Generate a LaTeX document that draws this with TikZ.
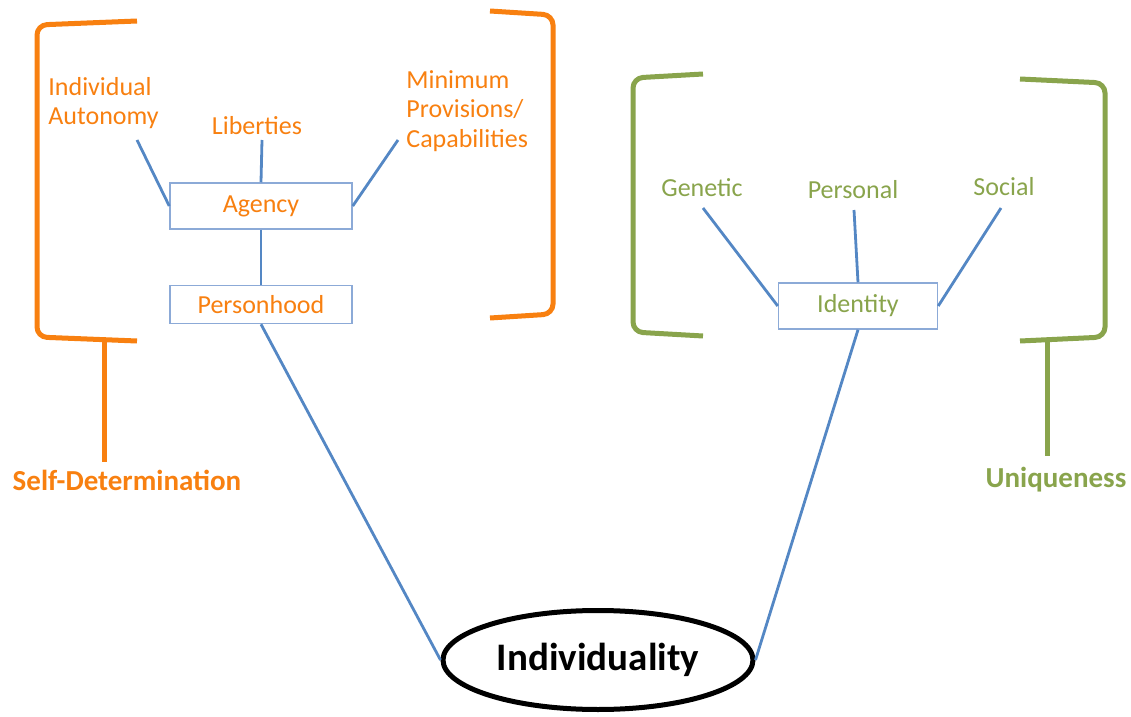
\documentclass[tikz,border=0pt]{standalone}
\usepackage{fontspec}
\setmainfont{Carlito}
\usetikzlibrary{positioning}
\usetikzlibrary{shapes.geometric}
\definecolor{sdorange}{RGB}{248,128,16}
\definecolor{unigreen}{RGB}{137,164,76}
\definecolor{linkblue}{RGB}{84,135,196}
\definecolor{boxblue}{RGB}{140,170,215}

\begin{document}
\begin{tikzpicture}[x=0.5pt,y=-0.5pt,
		box/.style={draw=boxblue, line width=0.75pt, minimum width=91pt, minimum height=23pt, inner sep=0pt, fill=white, font=\fontsize{13}{15}\selectfont},
		lab/.style={inner sep=0pt, font=\fontsize{13}{14.8}\selectfont},
		head/.style={inner sep=0pt, font=\fontsize{14.5}{17}\selectfont\bfseries},
		link/.style={draw=linkblue, line width=1.4pt},
		brack/.style={line width=2.5pt, rounded corners=5pt}]
		\useasboundingbox (0,0) rectangle (1131,717);
		% self-determination side
		\node (agency) [box, text=sdorange] at (261,206) {Agency};
		\node (person) [box, text=sdorange, minimum height=19pt, below=27.5pt of agency] {Personhood};
		\node (auton) [lab, text=sdorange, anchor=west, align=left] at (48,103) {Individual\\Autonomy};
		\node (liber) [lab, text=sdorange] at (257,126) {Liberties};
		\node (minim) [lab, text=sdorange, anchor=west, align=left] at (406,111) {Minimum\\Provisions/\\Capabilities};
		\node (selfdet) [head, text=sdorange] at (127,480) {Self-Determination};
		% uniqueness side
		\node (ident) [box, text=unigreen, minimum width=79.5pt] at (858,306) {Identity};
		\node (genet) [lab, text=unigreen] at (702,188) {Genetic};
		\node (perso) [lab, text=unigreen] at (853,190) {Personal};
		\node (socia) [lab, text=unigreen] at (1004,187) {Social};
		\node (uniq) [head, text=unigreen] at (1056,480) {Uniqueness};
		% centre
		\node (indiv) [draw, ellipse, line width=2.5pt, minimum width=155pt, minimum height=49.5pt, inner sep=0pt, font=\fontsize{19.5}{22}\selectfont\bfseries] at (598,660) {Individuality};
		% line ends
		\coordinate (autend) at (137,140);
		\coordinate (libend) at (262,140);
		\coordinate (minend) at (398,140);
		\coordinate (genend) at (703,208);
		\coordinate (perend) at (854,210);
		\coordinate (socend) at (1001,208);
		% brackets
		\draw [brack, sdorange] (137,21) -- (37,25) -- (37,337) -- (137,341);
		\draw [brack, sdorange] (490,11) -- (553,15) -- (553,314) -- (490,318);
		\draw [brack, unigreen] (703,74) -- (633,78) -- (633,332) -- (703,336);
		\draw [brack, unigreen] (1020,79) -- (1105,83) -- (1105,337) -- (1020,341);
		\draw [line width=2.5pt, sdorange] (104,340) -- (104,462);
		\draw [line width=2.5pt, unigreen] (1047,340) -- (1047,456);
		% links
		\draw [link] (autend) -- (agency.west);
		\draw [link] (libend) -- (agency.north);
		\draw [link] (minend) -- (agency.east);
		\draw [link] (agency) -- (person);
		\draw [link] (person.south) -- (indiv.west);
		\draw [link] (genend) -- (ident.west);
		\draw [link] (perend) -- (ident.north);
		\draw [link] (socend) -- (ident.east);
		\draw [link] (ident.south) -- (indiv.east);
\end{tikzpicture}
\end{document}
